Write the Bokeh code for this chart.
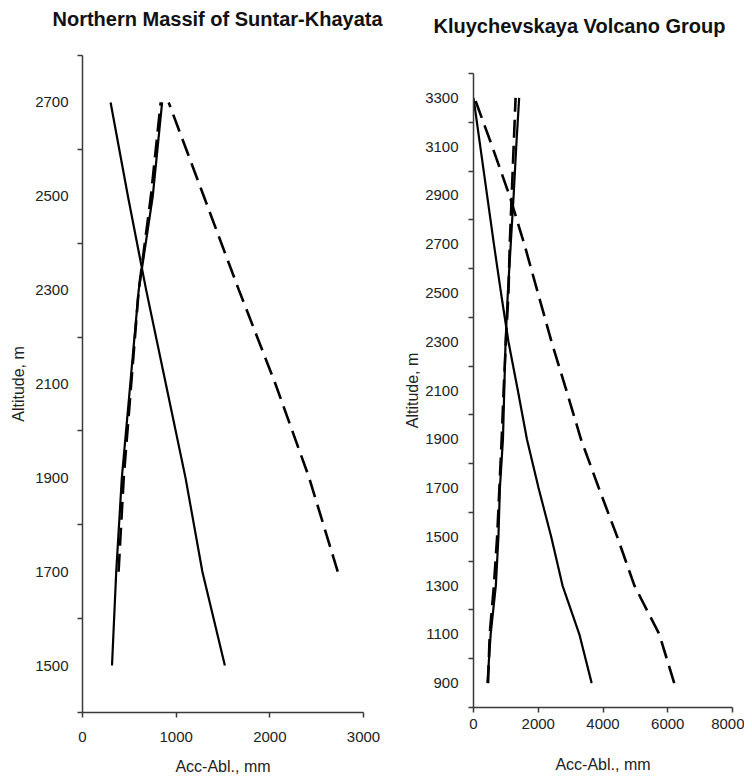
from bokeh.plotting import figure
from bokeh.layouts import row
from bokeh.models import Range1d, FixedTicker, Title
from bokeh.embed import file_html
from bokeh.resources import INLINE

# ---------------- data ----------------
# Northern Massif of Suntar-Khayata
alt_left = [1500, 1700, 1900, 2100, 2300, 2500, 2700]
left_solid_a = [1520, 1280, 1100, 890, 680, 485, 300]
left_solid_b = [315, 360, 420, 510, 600, 750, 850]
alt_left_dash = [1700, 1900, 2100, 2300, 2500, 2700]
left_dash_a = [385, 440, 520, 600, 730, 835]
left_dash_b = [2725, 2420, 2060, 1670, 1295, 920]

# Kluychevskaya Volcano Group
alt_right = [900, 1100, 1300, 1500, 1700, 1900, 2100, 2300, 2500, 2700, 2900, 3100, 3300]
right_solid_a = [3650, 3270, 2750, 2400, 2010, 1650, 1370, 1080, 850, 630, 420, 210, 0]
right_solid_b = [430, 530, 690, 770, 815, 910, 950, 990, 1060, 1150, 1240, 1320, 1410]
right_dash_a = [450, 500, 630, 730, 800, 870, 930, 1000, 1080, 1120, 1180, 1240, 1300]
right_dash_b = [6200, 5740, 4970, 4440, 3870, 3320, 2870, 2410, 1990, 1570, 1110, 580, 30]

left_x_ticks = [0, 1000, 2000, 3000]
left_y_labels = [1500, 1700, 1900, 2100, 2300, 2500, 2700]
left_y_marks = [1400, 1600, 1800, 2000, 2200, 2400, 2600, 2800]
right_x_ticks = [0, 2000, 4000, 6000, 8000]
right_y_labels = [900, 1100, 1300, 1500, 1700, 1900, 2100, 2300, 2500, 2700, 2900, 3100, 3300]
right_y_marks = [800, 1000, 1200, 1400, 1600, 1800, 2000, 2200, 2400, 2600, 2800, 3000, 3200, 3400]

title_left = "Northern Massif of Suntar-Khayata"
title_right = "Kluychevskaya Volcano Group"

FONT = "Liberation Sans"
AXIS_COL = "#3a3a3a"
TXT_COL = "#222222"


def style(p, xticks, ylabels, ymarks, x_std, x_lab_std, y_std, y_lab_std):
    p.frame_align = False
    p.outline_line_color = None
    p.xgrid.visible = False
    p.ygrid.visible = False
    p.xaxis.ticker = FixedTicker(ticks=xticks, minor_ticks=[])
    p.yaxis.ticker = FixedTicker(ticks=ylabels, minor_ticks=ymarks)
    for ax in (p.xaxis, p.yaxis):
        ax.axis_line_color = AXIS_COL
        ax.axis_line_width = 1.5
        ax.major_tick_line_color = AXIS_COL
        ax.minor_tick_line_color = AXIS_COL
        ax.major_tick_line_width = 1.5
        ax.minor_tick_line_width = 1.5
        ax.major_tick_in = 0
        ax.minor_tick_in = 0
        ax.major_label_text_font = FONT
        ax.major_label_text_font_size = "15px"
        ax.major_label_text_color = TXT_COL
        ax.axis_label_text_font = FONT
        ax.axis_label_text_font_size = "16px"
        ax.axis_label_text_font_style = "normal"
        ax.axis_label_text_color = TXT_COL
    p.xaxis.major_tick_out = 5
    p.xaxis.minor_tick_out = 0
    p.xaxis.major_label_standoff = x_std
    p.xaxis.axis_label_standoff = x_lab_std
    p.yaxis.major_tick_out = 0
    p.yaxis.minor_tick_out = 5
    p.yaxis.major_label_standoff = y_std
    p.yaxis.axis_label_standoff = y_lab_std
    p.xaxis.axis_label = "Acc-Abl., mm"
    p.yaxis.axis_label = "Altitude, m"


def set_title(p, text, offset, line_height):
    # trailing empty line lifts the title above the frame
    p.title_location = None
    t = Title(text=text + "\n", text_font=FONT, text_font_size="20px",
              text_font_style="bold", text_color="#111111", align="left",
              offset=offset, standoff=0, text_line_height=line_height)
    p.add_layout(t, "above")


p1 = figure(width=392, height=778, output_backend="svg", toolbar_location=None,
            x_range=Range1d(0, 3000), y_range=Range1d(1400, 2800),
            min_border_left=82, min_border_right=29, min_border_top=55, min_border_bottom=66)
style(p1, left_x_ticks, left_y_labels, left_y_marks, 14, 13, 9, 5)
set_title(p1, title_left, -30, 1.15)

p1.line(left_solid_a, alt_left, line_color="black", line_width=2.2)
p1.line(left_solid_b, alt_left, line_color="black", line_width=2.2)
p1.line(left_dash_a, alt_left_dash, line_color="black", line_width=2.6, line_dash="18 8")
p1.line(left_dash_b, alt_left_dash, line_color="black", line_width=2.6, line_dash="18 8")

p2 = figure(width=352, height=778, output_backend="svg", toolbar_location=None,
            x_range=Range1d(0, 8000), y_range=Range1d(800, 3400),
            min_border_left=81, min_border_right=12, min_border_top=73, min_border_bottom=71)
style(p2, right_x_ticks, right_y_labels, right_y_marks, 6, 24, 10, 1)
set_title(p2, title_right, -40, 1.65)

p2.line(right_solid_a, alt_right, line_color="black", line_width=2.2)
p2.line(right_solid_b, alt_right, line_color="black", line_width=2.2)
p2.line(right_dash_a, alt_right, line_color="black", line_width=2.6, line_dash="18 8")
p2.line(right_dash_b, alt_right, line_color="black", line_width=2.6, line_dash="18 8")

layout = row(p1, p2)
open("out.html", "w").write(file_html(layout, INLINE))
